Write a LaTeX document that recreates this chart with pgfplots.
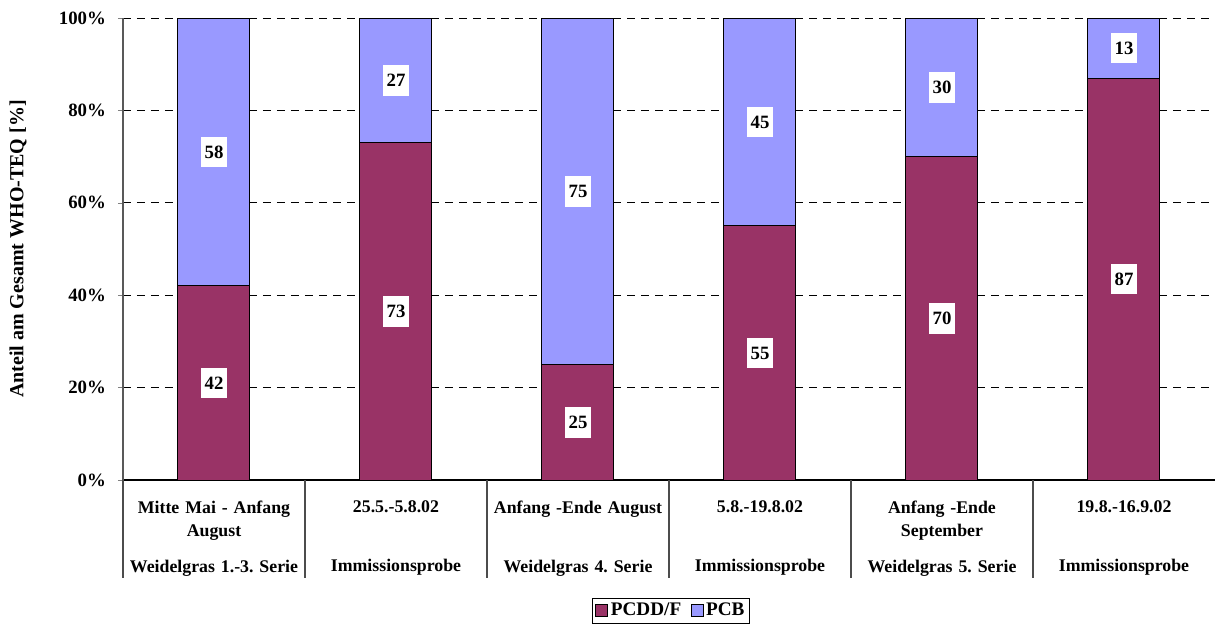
\documentclass[border=0pt]{standalone}
\usepackage{pgfplots}
\pgfplotsset{compat=1.18}
\usepackage{fontspec}
\setmainfont{Liberation Serif}
\definecolor{pcdd}{HTML}{993366}
\definecolor{pcb}{HTML}{9999FF}
\begin{document}
\frenchspacing
\begin{tikzpicture}[font=\fontsize{9.4pt}{11.5pt}\selectfont\bfseries\frenchspacing]
\useasboundingbox (-61.5pt,-71.5pt) rectangle (546pt,240pt);
\pgfplotsset{common/.style={scale only axis, width=546pt, height=231pt,
  at={(0,0)}, anchor=south west, xmin=-0.5, xmax=5.5, ymin=0, ymax=100}}
\begin{axis}[common, ybar stacked, bar width=36pt, clip=false,
  axis x line*=bottom, axis y line*=left,
  x axis line style={black, line width=0.7pt},
  y axis line style={black!65, line width=0.7pt},
  /pgf/number format/assume math mode=true,
  ytick={0,20,...,100},
  yticklabel={\pgfmathprintnumber{\tick}\%},
  yticklabel style={xshift=-2.5pt},
  tick align=outside, major tick length=2.5pt,
  ymajorgrids, grid style={black, line width=0.5pt, dash pattern=on 4pt off 3pt},
  xtick={0,...,5},
  xtick style={draw=none},
  xticklabels={
    {Mitte Mai - Anfang\\August\\[6.5pt]Weidelgras 1.-3. Serie},
    {25.5.-5.8.02\\\mbox{}\\[6.5pt]Immissionsprobe},
    {Anfang -Ende August\\\mbox{}\\[6.5pt]Weidelgras 4. Serie},
    {5.8.-19.8.02\\\mbox{}\\[6.5pt]Immissionsprobe},
    {Anfang -Ende\\September\\[6.5pt]Weidelgras 5. Serie},
    {19.8.-16.9.02\\\mbox{}\\[6.5pt]Immissionsprobe}},
  xticklabel style={align=center, text width=90pt, anchor=north, yshift=-4.5pt,
    font=\fontsize{8.9pt}{11.5pt}\selectfont\bfseries\frenchspacing},
  ylabel={Anteil am Gesamt WHO-TEQ [\%]},
  ylabel style={at={(axis description cs:-0.0962,0.5)}, anchor=center,
    font=\fontsize{10pt}{12pt}\selectfont\bfseries},
  legend style={at={(axis description cs:0.502,-0.2835)}, anchor=center,
    legend columns=2, draw=black, line width=0.5pt, inner xsep=1.5pt, inner ysep=1pt,
    /tikz/every even column/.append style={column sep=3.5pt},
    nodes={inner xsep=1.2pt, inner ysep=1.5pt},
    font=\fontsize{9.6pt}{12pt}\selectfont\bfseries},
  legend image code/.code={\draw[#1, draw=black, line width=0.5pt] (0pt,-2.6pt) rectangle (6pt,3.4pt);},
]
\addplot[fill=pcdd, draw=black, line width=0.5pt] coordinates {(0,42)(1,73)(2,25)(3,55)(4,70)(5,87)};
\addplot[fill=pcb, draw=black, line width=0.5pt] coordinates {(0,58)(1,27)(2,75)(3,45)(4,30)(5,13)};
\legend{PCDD/F, PCB}
\draw[black!70, line width=0.6pt] (axis cs:-0.5,0) -- ([yshift=-49pt]axis cs:-0.5,0);
\draw[black!70, line width=0.6pt] (axis cs:0.5,0) -- ([yshift=-49pt]axis cs:0.5,0);
\draw[black!70, line width=0.6pt] (axis cs:1.5,0) -- ([yshift=-49pt]axis cs:1.5,0);
\draw[black!70, line width=0.6pt] (axis cs:2.5,0) -- ([yshift=-49pt]axis cs:2.5,0);
\draw[black!70, line width=0.6pt] (axis cs:3.5,0) -- ([yshift=-49pt]axis cs:3.5,0);
\draw[black!70, line width=0.6pt] (axis cs:4.5,0) -- ([yshift=-49pt]axis cs:4.5,0);
\end{axis}
\begin{axis}[common, hide axis]
\addplot[draw=none, mark=none, nodes near coords, point meta=explicit symbolic,
  every node near coord/.style={fill=white, anchor=center, inner xsep=2pt, inner ysep=4.5pt,
    font=\fontsize{9.4pt}{11.5pt}\selectfont\bfseries}]
  coordinates {(0,21)[42] (1,36.5)[73] (2,12.5)[25] (3,27.5)[55] (4,35)[70] (5,43.5)[87]};
\addplot[draw=none, mark=none, nodes near coords, point meta=explicit symbolic,
  every node near coord/.style={fill=white, anchor=center, inner xsep=2pt, inner ysep=4.5pt,
    font=\fontsize{9.4pt}{11.5pt}\selectfont\bfseries}]
  coordinates {(0,71)[58] (1,86.5)[27] (2,62.5)[75] (3,77.5)[45] (4,85)[30] (5,93.5)[13]};
\end{axis}
\end{tikzpicture}
\end{document}
